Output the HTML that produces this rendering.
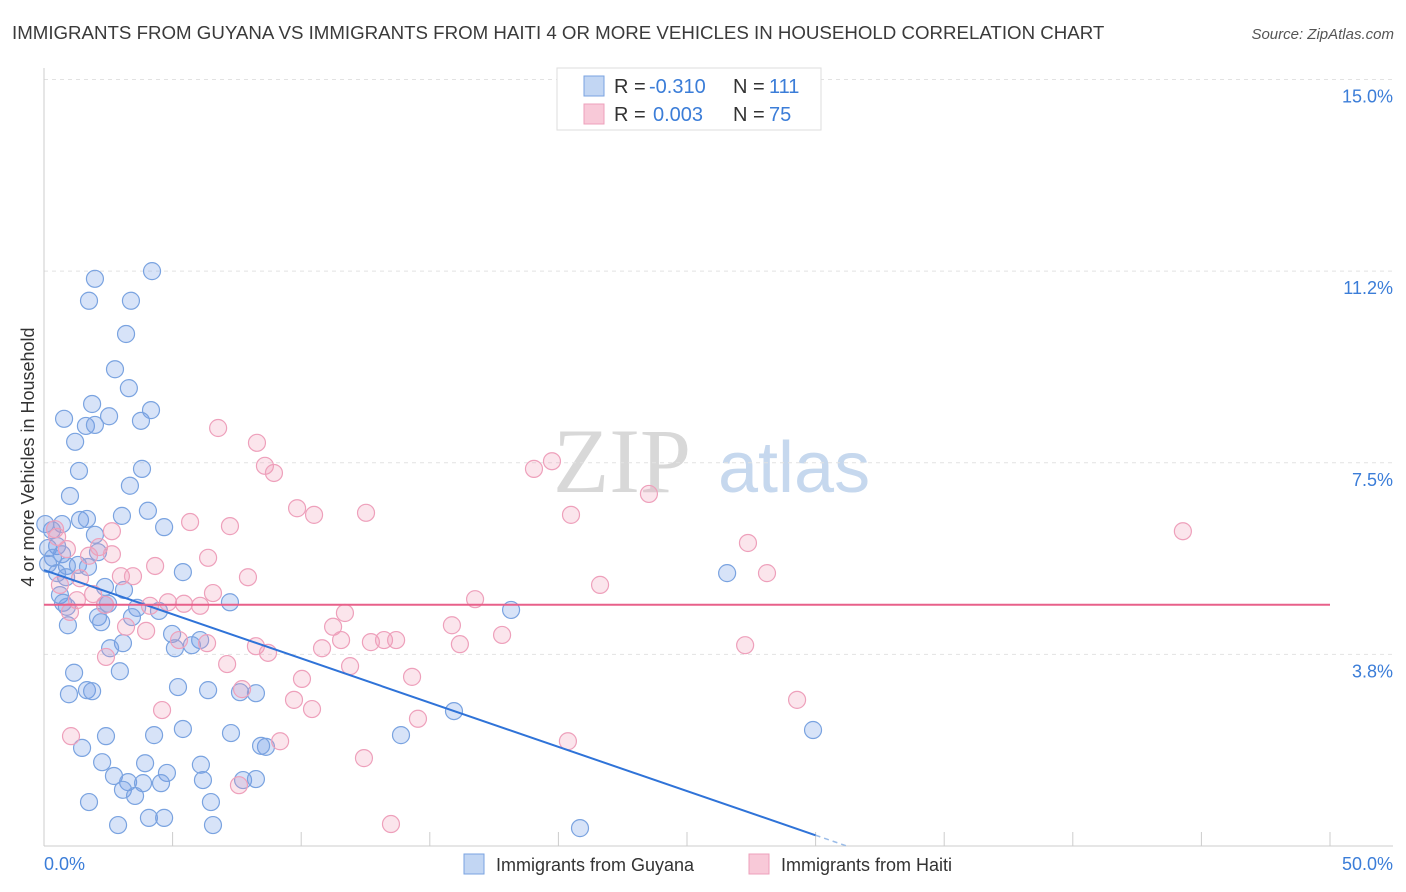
<!DOCTYPE html>
<html><head><meta charset="utf-8">
<style>
body{margin:0;background:#fff;font-family:"Liberation Sans",sans-serif;}
svg{display:block}
</style></head>
<body>
<svg id="chart" width="1406" height="892" xmlns="http://www.w3.org/2000/svg">
<text x="12" y="39" font-size="18.7" fill="#3a3a3a">IMMIGRANTS FROM GUYANA VS IMMIGRANTS FROM HAITI 4 OR MORE VEHICLES IN HOUSEHOLD CORRELATION CHART</text>
<text x="1394" y="39" font-size="15" fill="#555" text-anchor="end" font-style="italic">Source: ZipAtlas.com</text>
<g>
<text x="553" y="492" font-family="Liberation Serif,serif" font-size="92" fill="#d8d8d8">ZIP</text>
<text x="718" y="492" font-size="72" fill="#c6d8ee">atlas</text>
</g>
<g id="grid"></g>
<g id="axes"></g>
<g id="pts"></g>
<g id="lines"></g>
<text transform="translate(34,457) rotate(-90)" font-size="18" fill="#333" text-anchor="middle">4 or more Vehicles in Household</text>
<text x="44" y="870" font-size="18" fill="#3b7dd8">0.0%</text>
<text x="1393" y="870" font-size="18" fill="#3b7dd8" text-anchor="end">50.0%</text>
<g>
<rect x="557" y="68" width="264" height="62" fill="#fff" stroke="#ddd"/>
<rect x="584" y="76" width="20" height="20" fill="#c2d6f3" stroke="#7aa3e0"/>
<rect x="584" y="104" width="20" height="20" fill="#f8c9d8" stroke="#eea0bb"/>
<text x="614" y="93" font-size="20" fill="#333">R =</text>
<text x="649" y="93" font-size="20" fill="#3b7dd8">-0.310</text>
<text x="733" y="93" font-size="20" fill="#333">N =</text>
<text x="769" y="93" font-size="20" fill="#3b7dd8">111</text>
<text x="614" y="121" font-size="20" fill="#333">R =</text>
<text x="653" y="121" font-size="20" fill="#3b7dd8">0.003</text>
<text x="733" y="121" font-size="20" fill="#333">N =</text>
<text x="769" y="121" font-size="20" fill="#3b7dd8">75</text>
</g>
<g>
<rect x="464" y="854" width="20" height="20" fill="#c2d6f3" stroke="#7aa3e0"/>
<text x="496" y="871" font-size="18" fill="#333">Immigrants from Guyana</text>
<rect x="749" y="854" width="20" height="20" fill="#f8c9d8" stroke="#eea0bb"/>
<text x="781" y="871" font-size="18" fill="#333">Immigrants from Haiti</text>
</g>
</svg>
<script>
const yTicks=[3.75,7.5,11.25,15];
const yTickLabels=["3.8%","7.5%","11.2%","15.0%"];
const xTicks=[0,5,10,15,20,25,30,35,40,45,50];
const guyanaX=[1.98,4.20,1.75,3.38,3.19,2.76,3.30,1.87,4.16,0.78,2.53,3.77,1.63,1.98,1.21,1.36,3.81,3.34,1.01,4.04,3.03,1.40,1.67,0.70,4.67,1.98,0.31,0.51,2.10,0.16,0.70,0.35,0.16,1.32,1.71,0.89,5.40,0.51,0.86,2.37,3.11,0.62,0.74,0.89,2.37,2.49,7.23,3.62,4.47,18.16,2.10,3.42,0.93,2.22,4.98,6.07,3.07,2.57,5.09,5.75,2.95,1.17,5.21,6.38,1.67,1.87,0.97,7.62,8.24,15.94,5.40,4.28,7.27,2.41,1.48,8.63,8.44,13.88,29.90,6.10,2.26,3.93,2.72,3.27,4.78,6.18,3.85,4.55,7.74,8.24,3.07,3.54,1.75,6.49,4.08,4.67,2.88,6.57,20.84,26.56,0.05];
const guyanaY=[11.10,11.25,10.67,10.67,10.02,9.33,8.96,8.65,8.53,8.36,8.41,8.32,8.22,8.24,7.91,7.34,7.38,7.05,6.85,6.56,6.46,6.38,6.40,6.30,6.24,6.09,6.18,5.87,5.75,5.83,5.71,5.64,5.52,5.50,5.46,5.48,5.36,5.34,5.26,5.07,5.01,4.91,4.76,4.68,4.72,4.74,4.77,4.66,4.60,4.62,4.48,4.48,4.32,4.38,4.15,4.03,3.97,3.87,3.87,3.93,3.42,3.39,3.11,3.05,3.05,3.03,2.97,3.01,2.99,2.64,2.29,2.17,2.21,2.15,1.92,1.94,1.96,2.17,2.27,1.59,1.64,1.62,1.37,1.25,1.43,1.29,1.23,1.23,1.29,1.31,1.10,0.98,0.86,0.86,0.55,0.55,0.41,0.41,0.35,5.34,6.30];
const haitiX=[0.51,0.89,1.75,2.14,2.64,6.77,8.28,8.59,8.94,9.84,10.50,5.68,7.23,12.52,19.05,19.75,23.52,20.49,27.37,44.28,6.38,4.32,7.93,2.99,3.46,0.62,21.62,28.11,1.91,2.37,4.12,4.82,5.44,6.07,6.57,11.70,16.76,11.24,15.86,3.19,3.97,5.25,6.34,11.55,12.71,13.22,13.69,10.81,17.81,16.17,8.24,8.71,2.41,7.12,11.90,7.70,10.03,9.72,14.31,10.42,4.59,27.26,29.28,14.54,9.18,1.05,20.37,12.44,7.58,13.49,1.28,1.40,1.01,0.43,2.64];
const haitiY=[6.05,5.81,5.68,5.85,6.16,8.18,7.89,7.44,7.30,6.61,6.48,6.34,6.26,6.52,7.38,7.53,6.89,6.48,5.93,6.16,5.64,5.48,5.26,5.28,5.28,5.11,5.11,5.34,4.93,4.72,4.70,4.77,4.74,4.70,4.95,4.56,4.83,4.29,4.32,4.29,4.21,4.03,3.97,4.03,3.99,4.03,4.03,3.87,4.13,3.95,3.91,3.78,3.70,3.56,3.52,3.07,3.27,2.86,3.31,2.68,2.66,3.93,2.86,2.49,2.05,2.15,2.05,1.72,1.19,0.43,4.81,5.24,4.58,6.20,5.71];
const guyanaTrend=[5.40,-0.173];
const haitiTrend=[4.72,0.0];
const X=v=>44+v*25.72, Y=v=>846-v*51.1;
const NS="http://www.w3.org/2000/svg";
function mk(tag,attrs,parent){const e=document.createElementNS(NS,tag);for(const k in attrs)e.setAttribute(k,attrs[k]);parent.appendChild(e);return e;}
const grid=document.getElementById('grid'),axes=document.getElementById('axes'),pts=document.getElementById('pts'),lines=document.getElementById('lines');
yTicks.forEach((t,i)=>{
 const l=mk('line',{x1:44,x2:1393,y1:Y(t),y2:Y(t),stroke:'#e2e2e2','stroke-dasharray':'4,4'},grid);
 
 
 const tx=mk('text',{x:1393,y:Y(t)+23,'font-size':18,fill:'#3b7dd8','text-anchor':'end'},grid);
 tx.textContent=yTickLabels[i];
 
 
});
const ax=mk('line',{x1:44,x2:44,y1:68,y2:846,stroke:'#ccc'},axes);


const bx=mk('line',{x1:44,x2:1393,y1:846,y2:846,stroke:'#ccc'},axes);


xTicks.forEach(t=>{
 const l=mk('line',{x1:X(t),x2:X(t),y1:832,y2:846,stroke:'#ccc'},axes);
 
 
});
function dots(xs,ys,fill,stroke,name){xs.forEach((x,i)=>{
 const c=mk('circle',{cx:X(x),cy:Y(ys[i]),r:8.5,fill:fill,stroke:stroke,'stroke-width':1.2},pts);
 
 
});}
dots(guyanaX,guyanaY,'rgba(110,155,230,0.28)','#7aa3e0','guyana-point');
dots(haitiX,haitiY,'rgba(240,150,180,0.25)','#eea0bb','haiti-point');
const xe=-guyanaTrend[0]/guyanaTrend[1];
const b1=mk('line',{x1:X(0),y1:Y(guyanaTrend[0]),x2:X(30),y2:Y(guyanaTrend[0]+guyanaTrend[1]*30),stroke:'#2f73d8','stroke-width':2},lines);


const b2=mk('line',{x1:X(30),y1:Y(guyanaTrend[0]+guyanaTrend[1]*30),x2:X(xe),y2:Y(0),stroke:'#9bbce8','stroke-width':1.5,'stroke-dasharray':'5,4'},lines);


const p1=mk('line',{x1:X(0),y1:Y(haitiTrend[0]),x2:X(50),y2:Y(haitiTrend[0]+haitiTrend[1]*50),stroke:'#e8608a','stroke-width':2},lines);


</script>
</body></html>
